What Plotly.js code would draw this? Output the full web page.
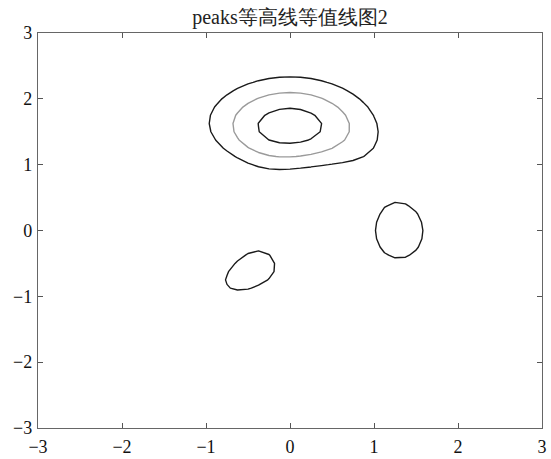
<!DOCTYPE html>
<html>
<head>
<meta charset="utf-8">
<script src="https://cdn.plot.ly/plotly-3.0.1.min.js"></script>
<style>html,body{margin:0;padding:0;background:#fff;}#chart{width:551px;height:459px;}</style>
</head>
<body>
<div id="chart"></div>
<script>
// MATLAB peaks(49) grid on [-3, 3]
var gridN = 49;
var gridMin = -3, gridMax = 3;
var levels = [3, 5, 7];
var levelColors = ['#1a1a1a', '#9a9a9a', '#1a1a1a'];
var tickVals = [-3, -2, -1, 0, 1, 2, 3];
var tickText = ['\u22123', '\u22122', '\u22121', '0', '1', '2', '3'];
var titleText = 'peaks等高线等值线图2';

function peaks(x, y) {
  return 3 * Math.pow(1 - x, 2) * Math.exp(-x * x - Math.pow(y + 1, 2))
    - 10 * (x / 5 - Math.pow(x, 3) - Math.pow(y, 5)) * Math.exp(-x * x - y * y)
    - (1 / 3) * Math.exp(-Math.pow(x + 1, 2) - y * y);
}
var xs = [], ys = [];
for (var i = 0; i < gridN; i++) {
  var v = gridMin + (gridMax - gridMin) * i / (gridN - 1);
  xs.push(v); ys.push(v);
}
var zs = ys.map(function (y) { return xs.map(function (x) { return peaks(x, y); }); });

var traces = levels.map(function (L, k) {
  return {
    type: 'contour', x: xs, y: ys, z: zs,
    autocontour: false,
    contours: {start: L, end: L, size: 1, coloring: 'none', showlabels: false},
    line: {color: levelColors[k], width: 1.4, smoothing: 0},
    showscale: false, hoverinfo: 'skip'
  };
});

function tf() { return {family: 'Liberation Serif', size: 18, color: '#111'}; }
function axis(extra) {
  var a = {
    range: [-3, 3], tickmode: 'array', tickvals: tickVals, ticktext: tickText,
    ticks: 'inside', ticklen: 5, tickwidth: 1, tickcolor: '#555',
    showline: true, linecolor: '#666', linewidth: 1.2, mirror: 'ticks',
    showgrid: false, zeroline: false, tickfont: tf(), fixedrange: true
  };
  for (var k in extra) a[k] = extra[k];
  return a;
}
var layout = {
  width: 551, height: 459,
  font: {family: 'Liberation Serif', size: 18, color: '#111'},
  margin: {l: 38, r: 9, t: 33, b: 31, pad: 0},
  paper_bgcolor: '#fff', plot_bgcolor: '#fff',
  showlegend: false,
  title: {text: titleText, font: {family: 'Liberation Serif', size: 20, color: '#222'},
          x: 0.5, xanchor: 'center', xref: 'paper',
          y: 1 - 17 / 459, yanchor: 'middle', yref: 'container'},
  xaxis: axis({ticklabelstandoff: 2}),
  yaxis: axis({ticklabelstandoff: 1})
};
Plotly.newPlot('chart', traces, layout, {staticPlot: true, displayModeBar: false});
</script>
</body>
</html>
